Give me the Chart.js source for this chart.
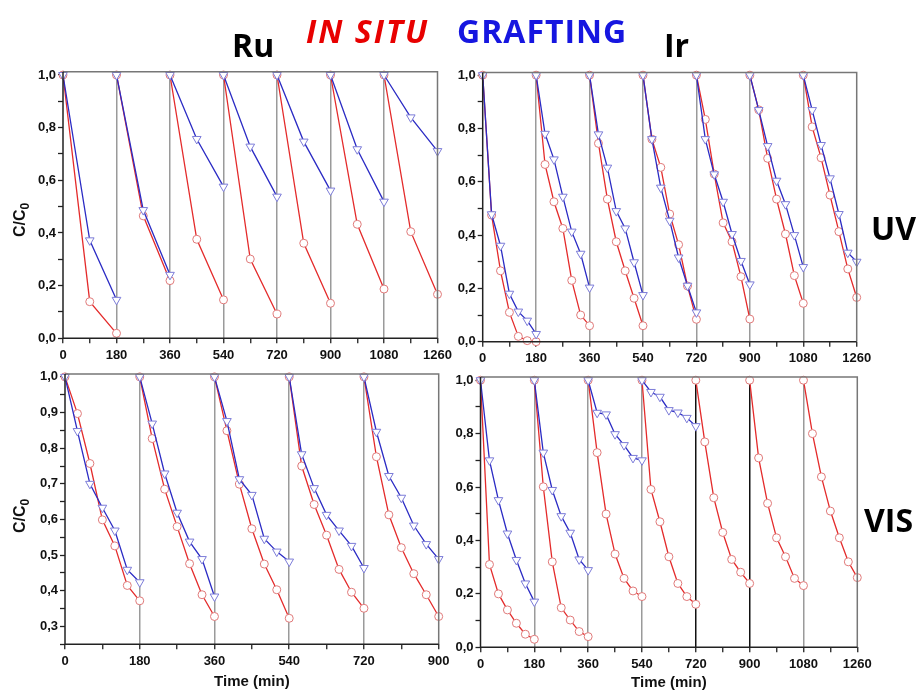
<!DOCTYPE html>
<html>
<head>
<meta charset="utf-8">
<script src="https://cdn.jsdelivr.net/npm/chart.js@4.4.1/dist/chart.umd.min.js"></script>
<style>
body { margin: 0; background: #fff; }
#wrap { position: relative; width: 922px; height: 693px; overflow: hidden; background: #fff; }
canvas { position: absolute; }
.lbl { position: absolute; font-family: 'Open Sans', sans-serif; font-weight: 700; font-size: 32px; line-height: 32px; white-space: nowrap; }
</style>
</head>
<body>
<div id="wrap">
    <canvas id="ruUv" width="460" height="310" style="left:0;top:60px"></canvas>
    <canvas id="irUv" width="482" height="310" style="left:440px;top:60px"></canvas>
    <canvas id="ruVis" width="460" height="333" style="left:0;top:360px"></canvas>
    <canvas id="irVis" width="482" height="333" style="left:440px;top:360px"></canvas>

    <div class="lbl" style="left:232px;top:29px;color:#000">Ru</div>
    <div class="lbl" style="left:306px;top:15px;color:#e80000;font-style:italic;letter-spacing:2px">IN SITU</div>
    <div class="lbl" style="left:457px;top:15px;color:#1616e0;letter-spacing:1px">GRAFTING</div>
    <div class="lbl" style="left:664px;top:29px;color:#000">Ir</div>
    <div class="lbl" style="left:871px;top:212px;color:#000">UV</div>
    <div class="lbl" style="left:864px;top:504px;color:#000">VIS</div>
</div>
<script>
// one cycle = 180 min, sampling times inside each cycle
var cycleLength = 180;
var ruUvTimes = [0, 90, 180];
var sampleTimes = [0, 30, 60, 90, 120, 150, 180];

// Ru - UV
var ruUvInSitu = [
    [1.0, 0.139, 0.019], [1.0, 0.465, 0.219], [1.0, 0.376, 0.146], [1.0, 0.301, 0.092],
    [1.0, 0.361, 0.133], [1.0, 0.433, 0.187], [1.0, 0.405, 0.167]
];
var ruUvGrafting = [
    [1.0, 0.372, 0.146], [1.0, 0.487, 0.241], [1.0, 0.757, 0.576], [1.0, 0.728, 0.538],
    [1.0, 0.747, 0.561], [1.0, 0.718, 0.519], [1.0, 0.839, 0.711]
];

// Ir - UV
var irUvInSitu = [
    [1.0, 0.475, 0.266, 0.11, 0.02, 0.004, 0.0],
    [1.0, 0.665, 0.525, 0.425, 0.23, 0.10, 0.06],
    [1.0, 0.744, 0.535, 0.375, 0.266, 0.163, 0.06],
    [1.0, 0.76, 0.654, 0.479, 0.364, 0.209, 0.084],
    [1.0, 0.834, 0.629, 0.446, 0.375, 0.244, 0.085],
    [1.0, 0.87, 0.688, 0.535, 0.404, 0.248, 0.144],
    [1.0, 0.806, 0.69, 0.55, 0.413, 0.273, 0.166]
];
var irUvGrafting = [
    [1.0, 0.478, 0.36, 0.18, 0.113, 0.079, 0.029],
    [1.0, 0.78, 0.684, 0.544, 0.413, 0.33, 0.203],
    [1.0, 0.778, 0.653, 0.49, 0.425, 0.298, 0.175],
    [1.0, 0.76, 0.578, 0.454, 0.316, 0.21, 0.11],
    [1.0, 0.76, 0.628, 0.525, 0.404, 0.303, 0.215],
    [1.0, 0.869, 0.734, 0.604, 0.516, 0.40, 0.28],
    [1.0, 0.869, 0.738, 0.613, 0.479, 0.334, 0.30]
];

// Ru - VIS
var ruVisInSitu = [
    [1.0, 0.897, 0.757, 0.599, 0.526, 0.415, 0.372],
    [1.0, 0.827, 0.685, 0.58, 0.476, 0.389, 0.328],
    [1.0, 0.849, 0.699, 0.574, 0.475, 0.403, 0.323],
    [1.0, 0.75, 0.642, 0.556, 0.46, 0.396, 0.351],
    [1.0, 0.776, 0.613, 0.521, 0.448, 0.389, 0.328]
];
var ruVisGrafting = [
    [1.0, 0.848, 0.70, 0.633, 0.569, 0.459, 0.424],
    [1.0, 0.869, 0.729, 0.619, 0.538, 0.489, 0.384],
    [1.0, 0.876, 0.713, 0.669, 0.546, 0.51, 0.482],
    [1.0, 0.783, 0.688, 0.613, 0.569, 0.526, 0.464],
    [1.0, 0.846, 0.722, 0.661, 0.583, 0.531, 0.489]
];

// Ir - VIS
var irVisInSitu = [
    [1.0, 0.31, 0.20, 0.14, 0.09, 0.049, 0.03],
    [1.0, 0.601, 0.32, 0.148, 0.102, 0.059, 0.04],
    [1.0, 0.729, 0.499, 0.349, 0.258, 0.211, 0.19],
    [1.0, 0.591, 0.47, 0.339, 0.239, 0.19, 0.161],
    [1.0, 0.769, 0.56, 0.43, 0.329, 0.281, 0.239],
    [1.0, 0.709, 0.539, 0.41, 0.339, 0.258, 0.231],
    [1.0, 0.80, 0.638, 0.51, 0.41, 0.32, 0.261]
];
var irVisGrafting = [
    [1.0, 0.70, 0.551, 0.426, 0.327, 0.239, 0.171],
    [1.0, 0.729, 0.589, 0.491, 0.429, 0.329, 0.289],
    [1.0, 0.878, 0.872, 0.798, 0.757, 0.709, 0.70],
    [1.0, 0.956, 0.938, 0.888, 0.879, 0.859, 0.828]
];

var fontFamily = "'Liberation Sans', Arial, sans-serif";
var tickFont = {family: fontFamily, size: 13, weight: 'bold'};

// turn cycles into one series, broken (null) between cycles
function buildSeries(cycles, times) {
    var points = [];
    for (var c = 0; c < cycles.length; c++) {
        if (c > 0) {
            points.push({x: c * cycleLength, y: null});
        }
        for (var i = 0; i < times.length; i++) {
            points.push({x: c * cycleLength + times[i], y: cycles[c][i]});
        }
    }
    return points;
}

function isStep(v, step) {
    return Math.abs(v / step - Math.round(v / step)) < 1e-6;
}

// box around the plot: dark axes, grey top/right
var framePlugin = {
    id: 'frame',
    afterDraw: function (chart) {
        var a = chart.chartArea;
        var ctx = chart.ctx;
        ctx.save();
        ctx.lineWidth = 1.5;
        ctx.strokeStyle = '#777';
        ctx.beginPath();
        ctx.moveTo(a.left, a.top);
        ctx.lineTo(a.right, a.top);
        ctx.lineTo(a.right, a.bottom);
        ctx.stroke();
        ctx.strokeStyle = '#222';
        ctx.beginPath();
        ctx.moveTo(a.left, a.top);
        ctx.lineTo(a.left, a.bottom);
        ctx.lineTo(a.right, a.bottom);
        ctx.stroke();
        ctx.restore();
    }
};

// C/C0 with a real subscript, rotated
var yTitlePlugin = {
    id: 'yTitle',
    afterDraw: function (chart, args, opts) {
        if (!opts.display) return;
        var ctx = chart.ctx;
        ctx.save();
        ctx.translate(opts.x, opts.y);
        ctx.rotate(-Math.PI / 2);
        ctx.fillStyle = '#111';
        ctx.textBaseline = 'alphabetic';
        ctx.font = 'bold 16px ' + fontFamily;
        var w1 = ctx.measureText('C/C').width;
        ctx.font = 'bold 12px ' + fontFamily;
        var w2 = ctx.measureText('0').width;
        var start = -(w1 + w2) / 2;
        ctx.font = 'bold 16px ' + fontFamily;
        ctx.fillText('C/C', start, 6);
        ctx.font = 'bold 12px ' + fontFamily;
        ctx.fillText('0', start + w1, 10);
        ctx.restore();
    }
};

function buildPanel(id, cfg) {
    var datasets = [];
    if (cfg.grafting) {
        datasets.push({
            label: 'GRAFTING',
            data: buildSeries(cfg.grafting, cfg.times),
            borderColor: '#2b2bc4',
            borderWidth: 1.3,
            pointStyle: 'triangle',
            pointRotation: 180,
            pointRadius: 5,
            pointBorderWidth: 1,
            pointBorderColor: '#7c7cd8',
            pointBackgroundColor: '#fff',
            spanGaps: false,
            clip: false
        });
    }
    datasets.push({
        label: 'IN SITU',
        data: buildSeries(cfg.inSitu, cfg.times),
        borderColor: '#e42b2b',
        borderWidth: 1.3,
        pointStyle: 'circle',
        pointRadius: 4,
        pointBorderWidth: 1,
        pointBorderColor: '#e07a7a',
        pointBackgroundColor: '#fff',
        spanGaps: false,
        clip: false
    });

    var xMax = cfg.cycles * cycleLength;

    return new Chart(document.getElementById(id), {
        type: 'line',
        data: {datasets: datasets},
        options: {
            responsive: false,
            animation: false,
            events: [],
            layout: {padding: cfg.padding},
            plugins: {
                legend: {display: false},
                tooltip: {enabled: false},
                yTitle: {display: cfg.yTitle, x: 19, y: cfg.yTitleY}
            },
            scales: {
                x: {
                    type: 'linear',
                    min: 0,
                    max: xMax,
                    border: {display: false},
                    afterFit: function (scale) {
                        scale.height = cfg.xHeight;
                        scale.paddingLeft = 0;
                        scale.paddingRight = 0;
                    },
                    ticks: {
                        stepSize: 90,
                        autoSkip: false,
                        maxRotation: 0,
                        padding: 4,
                        color: '#111',
                        font: tickFont,
                        callback: function (v) {
                            return v % 180 === 0 ? String(v) : '';
                        }
                    },
                    grid: {
                        lineWidth: 1.5,
                        tickLength: 5,
                        tickWidth: 1.3,
                        tickColor: '#222',
                        color: function (c) {
                            var v = c.tick ? c.tick.value : -1;
                            if (v > 0 && v < xMax && v % 180 === 0) {
                                return (cfg.darkLines && cfg.darkLines.indexOf(v) >= 0) ? '#111' : '#9a9a9a';
                            }
                            return 'rgba(0,0,0,0)';
                        }
                    },
                    title: {
                        display: cfg.xTitle,
                        text: 'Time (min)',
                        color: '#111',
                        font: {family: fontFamily, size: 15, weight: 'bold'},
                        padding: {top: 0, bottom: cfg.xTitlePad}
                    }
                },
                y: {
                    type: 'linear',
                    min: cfg.yMin,
                    max: cfg.yMax,
                    border: {display: false},
                    afterFit: function (scale) {
                        scale.width = cfg.yWidth;
                        scale.paddingTop = 0;
                        scale.paddingBottom = 0;
                    },
                    ticks: {
                        stepSize: cfg.yStep,
                        includeBounds: false,
                        autoSkip: false,
                        padding: 2,
                        color: '#111',
                        font: tickFont,
                        callback: function (v) {
                            return isStep(v, cfg.yLabelStep) ? v.toFixed(1).replace('.', ',') : '';
                        }
                    },
                    grid: {
                        drawOnChartArea: false,
                        tickLength: 5,
                        tickWidth: 1.3,
                        tickColor: function (c) {
                            var v = c.tick ? c.tick.value : 0;
                            return isStep(v, cfg.yStep) ? '#222' : 'rgba(0,0,0,0)';
                        }
                    }
                }
            }
        },
        plugins: [framePlugin, yTitlePlugin]
    });
}

buildPanel('ruUv', {
    inSitu: ruUvInSitu, grafting: ruUvGrafting, times: ruUvTimes, cycles: 7,
    yMin: 0, yMax: 1.0125, yStep: 0.1, yLabelStep: 0.2,
    yWidth: 63, xHeight: 31.7, padding: {left: 0, top: 11.7, right: 22.5, bottom: 0},
    yTitle: true, yTitleY: 160, xTitle: false, xTitlePad: 0
});

buildPanel('irUv', {
    inSitu: irUvInSitu, grafting: irUvGrafting, times: sampleTimes, cycles: 7,
    yMin: 0, yMax: 1.01, yStep: 0.1, yLabelStep: 0.2,
    yWidth: 42.7, xHeight: 28.3, padding: {left: 0, top: 12.5, right: 65.3, bottom: 0},
    yTitle: false, xTitle: false, xTitlePad: 0
});

buildPanel('ruVis', {
    inSitu: ruVisInSitu, grafting: ruVisGrafting, times: sampleTimes, cycles: 5,
    yMin: 0.25, yMax: 1.008, yStep: 0.05, yLabelStep: 0.1,
    yWidth: 65, xHeight: 48.7, padding: {left: 0, top: 14, right: 21.3, bottom: 0},
    yTitle: true, yTitleY: 156, xTitle: true, xTitlePad: 2
});

buildPanel('irVis', {
    inSitu: irVisInSitu, grafting: irVisGrafting, times: sampleTimes, cycles: 7,
    yMin: 0, yMax: 1.012, yStep: 0.1, yLabelStep: 0.2,
    yWidth: 40.5, xHeight: 45.7, padding: {left: 0, top: 17, right: 64.7, bottom: 0},
    yTitle: false, xTitle: true, xTitlePad: 1,
    darkLines: [720, 900]
});
</script>
</body>
</html>
